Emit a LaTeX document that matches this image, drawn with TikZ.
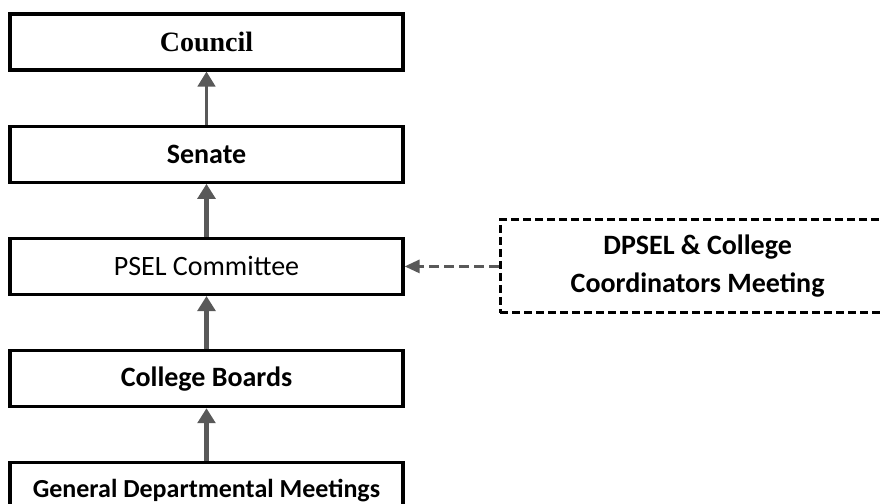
\documentclass[tikz,border=0pt]{standalone}
\usepackage{fontspec}
\setmainfont{Carlito}
\newfontfamily\councilfont{Liberation Serif}
\usetikzlibrary{arrows.meta, positioning}
\definecolor{arrowgray}{RGB}{89,89,89}

\begin{document}
\begin{tikzpicture}[
		box/.style={draw=black, line width=1.6pt, minimum width=196.5pt, minimum height=28pt,
			inner sep=0pt, font=\fontsize{14}{17}\selectfont\bfseries},
		dashbox/.style={draw=black, line width=1.5pt, dash pattern=on 4pt off 2pt,
			minimum width=197.5pt, minimum height=46.5pt, inner sep=0pt, align=center,
			font=\fontsize{14}{19}\selectfont\bfseries},
		up/.style={draw=arrowgray, line width=2.3pt, -{Triangle[length=7.5pt,width=8.8pt]}},
		side/.style={draw=arrowgray, line width=1.5pt, dash pattern=on 5pt off 2.5pt,
			-{Triangle[length=7.5pt,width=6.5pt]}},
		node distance=26.5pt
	]
		\useasboundingbox (0,0) rectangle (440.5pt,-251.5pt);
		\clip (0,0) rectangle (440.5pt,-251.5pt);
		%draw boxes
		\node[box, font=\fontsize{14}{17}\selectfont\councilfont\bfseries] (council) at (103.25pt,-21pt) {Council};
		\node[box, below=of council] (senate) {Senate};
		\node[box, below=of senate, font=\fontsize{14}{17}\selectfont] (psel) {PSEL Committee};
		\node[box, below=of psel] (boards) {College Boards};
		\node[box, below=of boards, font=\fontsize{13}{16}\selectfont\bfseries] (meetings) {General Departmental Meetings};
		\node[dashbox, right=47pt of psel] (coord) {DPSEL \& College\\Coordinators Meeting};
		%draw arrows
		\draw[up] (meetings) -- (boards);
		\draw[up] (boards) -- (psel);
		\draw[up] (psel) -- (senate);
		\draw[up, line width=1.4pt] (senate) -- (council);
		\draw[side] (coord) -- (psel);
\end{tikzpicture}
\end{document}
